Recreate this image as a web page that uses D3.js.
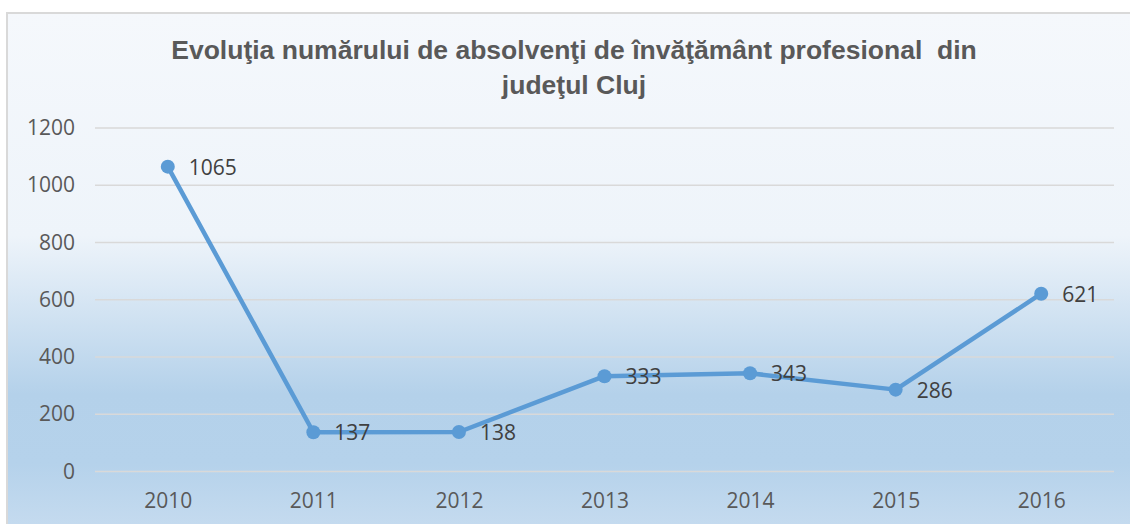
<!DOCTYPE html>
<html>
<head>
<meta charset="utf-8">
<script src="https://cdn.jsdelivr.net/npm/d3@7"></script>
<style>
  body { margin: 0; background: #ffffff; }
  svg { display: block; }
</style>
</head>
<body>
<div id="chart"></div>
<script>
// data
const years = ["2010", "2011", "2012", "2013", "2014", "2015", "2016"];
const absolventi = [1065, 137, 138, 333, 343, 286, 621];
const yTicks = [0, 200, 400, 600, 800, 1000, 1200];
const titleLines = ["Evoluţia numărului de absolvenţi de învăţământ profesional  din", "judeţul Cluj"];

const width = 1130;
const height = 524;
const box = { x: 7, y: 13, w: 1134, h: 530 };
const margin = { top: 128, right: 16, bottom: 52, left: 95 };
const labelFont = "'Open Sans', sans-serif";

const svg = d3.select("#chart")
  .append("svg")
    .attr("width", width)
    .attr("height", height);

// background gradient, light on top, blue at the bottom
const defs = svg.append("defs");
const grad = defs.append("linearGradient")
  .attr("id", "bg")
  .attr("x1", 0).attr("y1", 0).attr("x2", 0).attr("y2", 1);
grad.append("stop").attr("offset", "0%").attr("stop-color", "#f5f8fc");
grad.append("stop").attr("offset", "42%").attr("stop-color", "#eef4fa");
grad.append("stop").attr("offset", "72%").attr("stop-color", "#b4d1ea");
grad.append("stop").attr("offset", "85%").attr("stop-color", "#b5d2eb");
grad.append("stop").attr("offset", "100%").attr("stop-color", "#c9ddf0");

svg.append("rect")
  .attr("x", box.x)
  .attr("y", box.y)
  .attr("width", box.w)
  .attr("height", box.h)
  .attr("fill", "url(#bg)")
  .attr("stroke", "#d9d9d9")
  .attr("stroke-width", 2);

// title
const title = svg.append("text")
  .attr("text-anchor", "middle")
  .attr("font-family", "'Liberation Sans', Arial, sans-serif")
  .attr("font-weight", "bold")
  .attr("font-size", 26.5)
  .attr("fill", "#595959");
title.selectAll("tspan")
  .data(titleLines)
  .join("tspan")
    .attr("x", 574)
    .attr("y", (d, i) => 59 + i * 35)
    .style("white-space", "pre")
    .text(d => d);

// scales
const x = d3.scalePoint()
  .domain(years)
  .range([margin.left, 1114])
  .padding(0.5);

const y = d3.scaleLinear()
  .domain([0, 1200])
  .range([471.5, margin.top]);

// gridlines
svg.append("g")
  .selectAll("line")
  .data(yTicks)
  .join("line")
    .attr("x1", margin.left)
    .attr("x2", 1114)
    .attr("y1", d => y(d))
    .attr("y2", d => y(d))
    .attr("stroke", "#d9d9d9")
    .attr("stroke-width", 1.3);

// y axis labels
const yAxis = svg.append("g")
  .attr("transform", "translate(" + (margin.left - 20) + ",0)")
  .call(d3.axisLeft(y).tickValues(yTicks).tickFormat(d3.format("d")).tickSize(0).tickPadding(0));
yAxis.select(".domain").remove();
yAxis.selectAll("text")
  .attr("font-family", labelFont)
  .attr("font-size", 21)
  .attr("fill", "#595959");

// x axis labels
const xAxis = svg.append("g")
  .attr("transform", "translate(0," + y(0) + ")")
  .call(d3.axisBottom(x).tickSize(0).tickPadding(22));
xAxis.select(".domain").remove();
xAxis.selectAll("text")
  .attr("font-family", labelFont)
  .attr("font-size", 21)
  .attr("fill", "#595959");

// line
const points = years.map((yr, i) => ({ year: yr, value: absolventi[i] }));

const line = d3.line()
  .x(d => x(d.year))
  .y(d => y(d.value));

svg.append("path")
  .datum(points)
  .attr("d", line)
  .attr("fill", "none")
  .attr("stroke", "#5b9bd5")
  .attr("stroke-width", 4.5)
  .attr("stroke-linejoin", "round");

svg.append("g")
  .selectAll("circle")
  .data(points)
  .join("circle")
    .attr("cx", d => x(d.year))
    .attr("cy", d => y(d.value))
    .attr("r", 7)
    .attr("fill", "#5b9bd5");

// data labels
svg.append("g")
  .selectAll("text")
  .data(points)
  .join("text")
    .attr("x", d => x(d.year) + 21)
    .attr("y", d => y(d.value) + 8)
    .attr("font-family", labelFont)
    .attr("font-size", 21)
    .attr("fill", "#404040")
    .text(d => d.value);
</script>
</body>
</html>
